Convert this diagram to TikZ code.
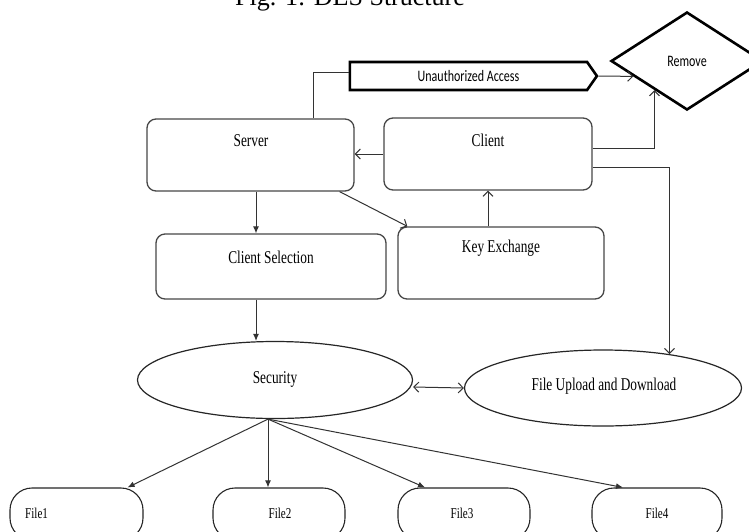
\documentclass[tikz,border=0pt]{standalone}
\usepackage{fontspec}
\setmainfont{Liberation Serif}
\newfontfamily\boxfont[FakeStretch=0.74]{Liberation Serif}
\newfontfamily\calfont[FakeStretch=0.75]{Carlito}
\usetikzlibrary{arrows.meta,shapes.geometric,shapes.symbols,calc}
\begin{document}
\begin{tikzpicture}[x=1pt,y=-1pt,
  rbox/.style={draw=black!72, line width=1.3pt, rounded corners=9pt, inner sep=0pt},
  lbl/.style={inner sep=0pt, font=\boxfont\fontsize{18}{20}\selectfont},
  flbl/.style={inner sep=0pt, font=\boxfont\fontsize{15}{17}\selectfont},
  ell/.style={ellipse, draw=black!85, line width=1.2pt, inner sep=0pt},
  filebox/.style={draw=black!85, line width=1.1pt, rounded corners=22pt, minimum height=52pt, inner sep=0pt},
  thickshape/.style={draw=black, line width=2.6pt, inner sep=0pt},
  conn/.style={draw=black!80, line width=1pt},
  farrow/.style={conn, -{Latex[length=7pt,width=6pt]}},
  oarrow/.style={conn, -{Straight Barb[length=5pt,width=10pt]}},
  darrow/.style={conn, {Straight Barb[length=5pt,width=10pt]}-{Straight Barb[length=5pt,width=10pt]}}
]
\useasboundingbox (0,0) rectangle (749,531);
\clip (0,0) rectangle (749,531);
\fill[white] (0,0) rectangle (749,531);

% title (top cut off as in the reference)
\node[anchor=base west, inner sep=0pt, font=\fontsize{26}{28}\selectfont] (title) at (235,5.5) {Fig. 1: DES Structure};

% boxes
\node[rbox, minimum width=207pt, minimum height=72pt] (server) at (250.5,155) {};
\node[lbl] (serverT) at (251,141) {Server};
\node[rbox, minimum width=208pt, minimum height=72pt] (client) at (488,154) {};
\node[lbl] (clientT) at (488,140) {Client};
\node[rbox, minimum width=230pt, minimum height=65pt] (cs) at (271,266.5) {};
\node[lbl] (csT) at (271,257) {Client Selection};
\node[rbox, minimum width=206pt, minimum height=72pt] (ke) at (501,263) {};
\node[lbl] (keT) at (501,248) {Key Exchange};

% unauthorized access and remove
\node[thickshape, signal, signal to=east, signal from=nowhere, signal pointer angle=110,
      minimum width=247pt, minimum height=28pt] (ua) at (468.5,76)
      {\calfont\fontsize{16}{18}\selectfont Unauthorized Access};
\node[thickshape, diamond, aspect=1.55, minimum width=152pt, minimum height=98pt] (remove) at (687,61)
      {\calfont\fontsize{16}{18}\selectfont Remove};

% ellipses
\node[ell, minimum width=275pt, minimum height=77pt] (security) at (275,380) {};
\node[lbl] (securityT) at (275,379) {Security};
\node[ell, minimum width=277pt, minimum height=76pt] (fu) at (603,388) {};
\node[lbl] (fuT) at (604,386) {File Upload and Download};

% files
\node[filebox, minimum width=133pt] (file1) at (76.5,514) {};
\node[flbl, anchor=west] (file1T) at (25,513) {File1};
\node[filebox, minimum width=132pt] (file2) at (279,514) {};
\node[flbl] (file2T) at (280,513) {File2};
\node[filebox, minimum width=132pt] (file3) at (464,514) {};
\node[flbl] (file3T) at (462,513) {File3};
\node[filebox, minimum width=130pt] (file4) at (657,514) {};
\node[flbl] (file4T) at (657,513) {File4};

% connectors
\draw[conn] ([xshift=62.5pt]server.north) |- ([yshift=4pt]ua.west);
\draw[oarrow] (ua.east) -- ($(remove.west)!0.306!(remove.south)$);
\draw[oarrow] ([yshift=6pt]client.east) -| ($(remove.west)!0.58!(remove.south)$);
\draw[oarrow] ([yshift=-13pt]client.east) -| (fu.27);
\draw[oarrow] (client.west) -- (client.west -| server.east);
\draw[farrow] ([xshift=5.5pt]server.south) -- ([xshift=-15pt]cs.north);
\draw[oarrow] ([xshift=-15pt]server.south east) -- ([xshift=10pt]ke.north west);
\draw[oarrow] (ke.north -| client.south) -- (client.south);
\draw[farrow] ([xshift=-15pt]cs.south) -- ([xshift=-19pt]security.north);
\draw[darrow] ([yshift=-7pt]security.east) -- (fu.west);
\coordinate (junc) at ([xshift=-7pt]security.south);
\draw[farrow] (junc) -- ([xshift=-16pt]file1.north east);
\draw[farrow] (junc) -- ([xshift=-11pt]file2.north);
\draw[farrow] (junc) -- ([xshift=-39pt]file3.north);
\draw[farrow] (junc) -- ([xshift=-34pt]file4.north);
\end{tikzpicture}
\end{document}
